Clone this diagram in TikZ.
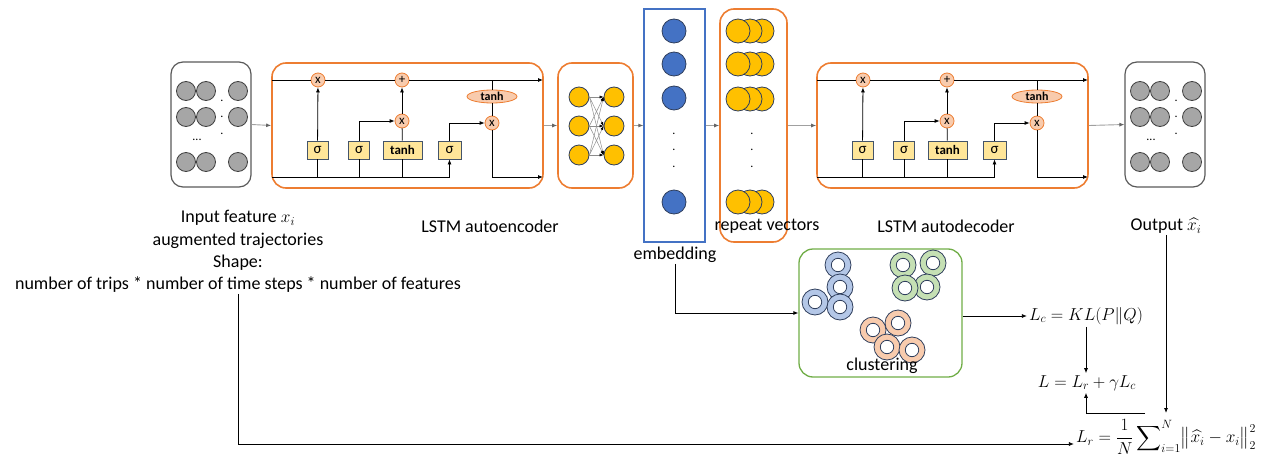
\documentclass[tikz,border=0pt]{standalone}
\usepackage{fontspec}
\setmainfont{Carlito}
\usepackage{amsmath}
\usetikzlibrary{arrows.meta,shapes.geometric,calc}

\definecolor{orng}{HTML}{ED7D31}
\definecolor{peach}{HTML}{F8CBAD}
\definecolor{gold}{HTML}{FFC000}
\definecolor{gatefill}{HTML}{FFE699}
\definecolor{gateline}{HTML}{44546A}
\definecolor{navy}{HTML}{2F3E5C}
\definecolor{embblue}{HTML}{4472C4}
\definecolor{ltblue}{HTML}{B4C7E7}
\definecolor{ltgreen}{HTML}{C5E0B4}
\definecolor{grn}{HTML}{70AD47}
\definecolor{cellgray}{HTML}{A6A6A6}
\definecolor{linkgray}{HTML}{A0A0A0}

\newcommand\lblfont{\fontsize{18}{22.4}\selectfont}

\tikzset{
  panel/.style={draw=orng, line width=1.6pt, rounded corners=14pt, inner sep=0pt},
  gate/.style={draw=gateline, fill=gatefill, line width=0.8pt, minimum height=18pt,
    minimum width=21pt, inner sep=0pt, font=\fontsize{15}{15}\selectfont},
  tanhgate/.style={gate, minimum width=39pt, font=\fontsize{13}{13}\selectfont\bfseries},
  op/.style={circle, draw=orng, fill=peach, line width=0.8pt, minimum size=14pt,
    inner sep=0pt, font=\fontsize{13}{13}\selectfont},
  tanhell/.style={ellipse, draw=orng, fill=peach, line width=0.8pt, minimum width=50pt,
    minimum height=13pt, inner sep=0pt, font=\fontsize{12}{12}\selectfont\bfseries},
  wire/.style={line width=0.8pt, black},
  arr/.style={wire, -{Latex[length=5pt,width=4pt]}},
  link/.style={linkgray, line width=0.9pt, -{Latex[length=5pt,width=4pt,color=black!60]}},
  graybox/.style={draw=black!65, line width=1.2pt, rounded corners=12pt, minimum width=80pt,
    minimum height=125pt, inner sep=0pt},
  cell/.style={circle, draw=black!75, fill=cellgray, line width=0.8pt, minimum size=19pt, inner sep=0pt},
  neuron/.style={circle, draw=navy, fill=gold, line width=0.8pt, minimum size=20pt, inner sep=0pt},
  embcell/.style={circle, draw=navy, fill=embblue, line width=0.8pt, minimum size=24pt, inner sep=0pt},
  repcell/.style={circle, draw=navy, fill=gold, line width=0.8pt, minimum size=24pt, inner sep=0pt},
  dotmark/.style={inner sep=0pt, font=\fontsize{12}{12}\selectfont},
  lbl/.style={inner sep=1pt, font=\lblfont},
  mathlbl/.style={inner sep=2pt, font=\fontsize{17}{20}\selectfont},
}

% one LSTM cell: #1 name prefix, #2 horizontal offset
\newcommand\lstmcell[2]{%
\begin{scope}[xshift=#2pt]
  \node[panel, minimum width=271pt, minimum height=125pt] (#1-box) at (407.5,125.5) {};
  \coordinate (#1-tl) at (272,80);
  \coordinate (#1-tr) at (543,80);
  \coordinate (#1-bl) at (272,177);
  \coordinate (#1-br) at (543,177);
  \node[op] (#1-f) at (318,80) {x};
  \node[op] (#1-add) at (402,80) {+};
  \node[op] (#1-i) at (402,121) {x};
  \node[op] (#1-o) at (492,123) {x};
  \node[gate] (#1-g1) at (317.5,150) {σ};
  \node[gate] (#1-g2) at (359,150) {σ};
  \node[tanhgate] (#1-g3) at (402.5,150) {tanh};
  \node[gate, minimum width=23pt] (#1-g4) at (449.5,150) {σ};
  \node[tanhell] (#1-th) at (492,96.5) {tanh};
  % cell state line
  \draw[wire] (#1-tl) -- (#1-f);
  \draw[wire] (#1-f) -- (#1-add);
  \draw[arr] (#1-add) -- (#1-tr);
  % gates
  \draw[arr] (#1-g1) -- (#1-f);
  \draw[arr] (#1-g2.north) |- (#1-i.west);
  \draw[wire] (#1-g3) -- (#1-i);
  \draw[arr] (#1-i) -- (#1-add);
  \draw[arr] (#1-g4.north) |- (#1-o.west);
  \draw[wire] (#1-o) -- (#1-th);
  \draw[wire] (#1-th) -- (#1-th |- #1-tl);
  \draw[arr] (#1-o) |- (#1-br);
  % input / hidden line
  \draw[arr] (#1-bl) -| (#1-g4.south);
  \draw[wire] (#1-g1.south) -- (#1-g1 |- #1-bl);
  \draw[wire] (#1-g2.south) -- (#1-g2 |- #1-bl);
  \draw[wire] (#1-g3.south) -- (#1-g3 |- #1-bl);
\end{scope}}

% grid of sequence cells: #1 name prefix, #2 horizontal offset
\newcommand\seqgrid[2]{%
\begin{scope}[xshift=#2pt]
  \node[graybox] (#1-box) at (211,124.5) {};
  \foreach \cx/\cn in {186/a,206/b,238/c}{
    \foreach \cy/\rn in {91/1,117/2,162/3}{
      \node[cell] (#1-\cn\rn) at (\cx,\cy) {};
    }
  }
  \node[dotmark] (#1-v1) at (222,101) {.};
  \node[dotmark] (#1-v2) at (222,117) {.};
  \node[dotmark] (#1-v3) at (222,134) {.};
  \node[dotmark] (#1-h) at (197,140) {...};
\end{scope}}

\begin{document}
\begin{tikzpicture}[x=1pt, y=-1pt]
\useasboundingbox (0,0) rectangle (1277,463);

% input and output sequences
\seqgrid{in}{0}
\seqgrid{out}{954}

% encoder and decoder cells
\lstmcell{enc}{0}
\lstmcell{dec}{545}

% dense layer
\node[panel, minimum width=75pt, minimum height=125pt] (nn) at (595.5,125.5) {};
\foreach \k/\yy in {1/97,2/126,3/155}{
  \node[neuron] (nl\k) at (579,\yy) {};
  \node[neuron] (nr\k) at (614,\yy) {};
}
\foreach \a in {1,2,3}{
  \foreach \b in {1,2,3}{
    \draw[black!45, line width=0.5pt, -{Latex[length=4pt,width=3pt,color=black]}] (nl\a.east) -- (nr\b.west);
  }
}

% embedding
\node[draw=embblue, line width=1.3pt, minimum width=61pt, minimum height=233pt, inner sep=0pt] (emb) at (674.5,125.5) {};
\foreach \k/\yy in {1/31,2/64,3/98,4/202}{
  \node[embcell] (e\k) at (674,\yy) {};
}
\node[dotmark] (ed1) at (674,134) {.};
\node[dotmark] (ed2) at (674,150) {.};
\node[dotmark] (ed3) at (674,167) {.};

% repeat vectors
\node[panel, minimum width=67pt, minimum height=233pt] (rep) at (753.5,125.5) {};
\foreach \k/\yy in {1/31,2/64,3/99,4/202}{
  \node[repcell] (r\k c) at (762,\yy) {};
  \node[repcell] (r\k b) at (750,\yy) {};
  \node[repcell] (r\k a) at (738,\yy) {};
}
\node[dotmark] (rd1) at (752,134) {.};
\node[dotmark] (rd2) at (752,150) {.};
\node[dotmark] (rd3) at (752,167) {.};

% flow between blocks
\draw[link] (in-box.east) -- (enc-box.west);
\draw[link] (enc-box.east) -- (nn.west);
\draw[link] (nn.east) -- (emb.west);
\draw[link] (emb.east) -- (rep.west);
\draw[link] (rep.east) -- (dec-box.west);
\draw[link] (dec-box.east) -- (out-box.west);

% labels
\node[lbl, align=center] (inlab) at (238,251.5) {Input feature $x_i$\\augmented trajectories\\Shape:\\number of trips * number of time steps * number of features};
\node[lbl] (enclab) at (490,226) {LSTM autoencoder};
\node[lbl] (declab) at (946,226) {LSTM autodecoder};
\node[lbl] (outlab) at (1166,226) {Output $\widehat{x_i}$};
\node[lbl] (emblab) at (675,255) {embedding};
\node[lbl] (replab) at (767,226) {repeat vectors};

% clustering
\node[draw=grn, line width=1.3pt, rounded corners=14pt, minimum width=163pt, minimum height=128pt, inner sep=0pt] (clus) at (880.5,313) {};
\foreach \fc/\pts in {ltblue/{(838,265),(840,287),(815,302),(840,307)},
                       ltgreen/{(903,265),(933,263),(927,287),(905,288)},
                       peach/{(873,330),(898,323),(887,347),(912,350)}}{
  \foreach \p in \pts {
    \draw[navy, line width=0.8pt, fill=\fc] \p circle[radius=13];
    \draw[navy, line width=0.8pt, fill=white] \p circle[radius=6.7];
  }
}
\node[lbl] (cluslab) at (882,366) {clustering};

% losses
\node[mathlbl] (Lc) at (1086,316) {$L_c = KL(P\Vert Q)$};
\node[mathlbl] (L) at (1087,383) {$L = L_r + \gamma L_c$};
\node[mathlbl] (Lr) at (1166,437) {$L_r = \dfrac{1}{N}\displaystyle\sum\nolimits_{i=1}^{N}\bigl\Vert\widehat{x_i}-x_i\bigr\Vert_2^2$};
\coordinate (tap) at (1145,413);

\draw[arr] (emblab.south) |- (clus.west);
\draw[arr] (clus.east |- Lc) -- (Lc.west);
\draw[arr] (Lc.south -| 1086,0) -- (L.north -| 1086,0);
\draw[arr] (tap) -| (L.south -| 1086,0);
\draw[arr] (outlab.south) -- (outlab.south |- tap);
\draw[arr] (inlab.south) |- ([yshift=-7pt]Lr.west);
\end{tikzpicture}
\end{document}
